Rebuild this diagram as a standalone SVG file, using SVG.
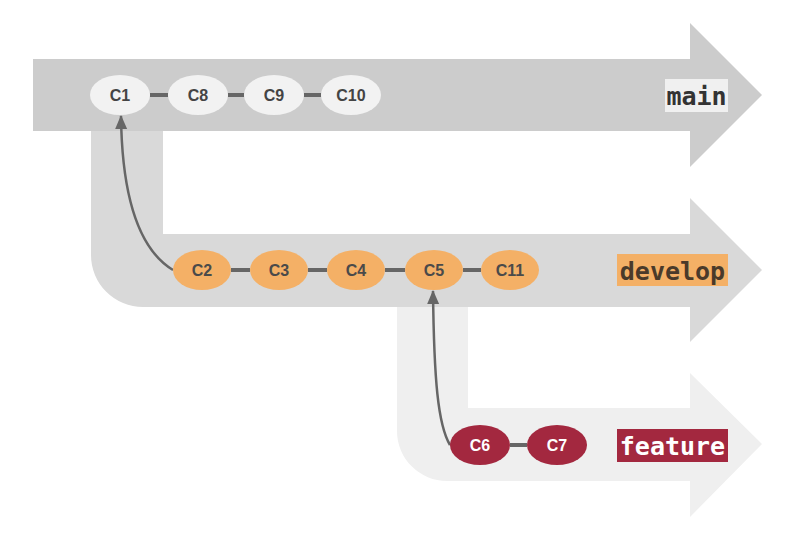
<svg xmlns="http://www.w3.org/2000/svg" width="785" height="533" viewBox="0 0 785 533">
<defs>
<style>
.nt{font-family:"Liberation Sans",Arial,sans-serif;font-weight:bold;font-size:16px;text-anchor:middle;dominant-baseline:central}
.lbl{font-family:"DejaVu Sans Mono","Liberation Mono",monospace;font-weight:bold;font-size:25px;text-anchor:middle;dominant-baseline:central}
.link{stroke:#666;stroke-width:4}
.arr{fill:none;stroke:#666;stroke-width:2.5}
</style>
<marker id="ah" markerUnits="userSpaceOnUse" markerWidth="14" markerHeight="14" viewBox="0 0 14 14" refX="13" refY="7" orient="auto">
<path d="M0,1 L14,7 L0,13 Z" fill="#666"/>
</marker>
</defs>
<rect width="785" height="533" fill="#fff"/>
<g id="bands">
<path d="M397,304 L468,304 L468,408 L690,408 L690,373 L762,444 L690,517 L690,481 L447,481 A50,50 0 0 1 397,431 Z" fill="#efefef"/>
<path d="M91,128 L163,128 L163,234 L690,234 L690,198 L762,270 L690,342 L690,307 L143,307 A52,52 0 0 1 91,255 Z" fill="#d9d9d9"/>
<path d="M33,59 L690,59 L690,23 L762,95 L690,167 L690,131 L33,131 Z" fill="#cccccc"/>
</g>
<g id="connectors">
<line class="link" x1="150" y1="95" x2="168" y2="95"/>
<line class="link" x1="228" y1="95" x2="244" y2="95"/>
<line class="link" x1="304" y1="95" x2="321" y2="95"/>
<line class="link" x1="231" y1="270" x2="250" y2="270"/>
<line class="link" x1="308" y1="270" x2="327" y2="270"/>
<line class="link" x1="385" y1="270" x2="405" y2="270"/>
<line class="link" x1="463" y1="270" x2="481" y2="270"/>
<line class="link" x1="510" y1="445" x2="527" y2="445"/>
<path class="arr" d="M173,270 C140,250 122,200 121,116" marker-end="url(#ah)"/>
<path class="arr" d="M450,445 C438,425 434,380 433,291" marker-end="url(#ah)"/>
</g>
<g id="C1"><ellipse cx="120" cy="95" rx="30" ry="20" fill="#f2f2f2"/><text class="nt" x="120" y="95" fill="#444">C1</text></g>
<g id="C8"><ellipse cx="198" cy="95" rx="30" ry="20" fill="#f2f2f2"/><text class="nt" x="198" y="95" fill="#444">C8</text></g>
<g id="C9"><ellipse cx="274" cy="95" rx="30" ry="20" fill="#f2f2f2"/><text class="nt" x="274" y="95" fill="#444">C9</text></g>
<g id="C10"><ellipse cx="351" cy="95" rx="30" ry="20" fill="#f2f2f2"/><text class="nt" x="351" y="95" fill="#444">C10</text></g>
<g id="C2"><ellipse cx="202" cy="270" rx="29" ry="20" fill="#f4b066"/><text class="nt" x="202" y="270" fill="#4a4a4a">C2</text></g>
<g id="C3"><ellipse cx="279" cy="270" rx="29" ry="20" fill="#f4b066"/><text class="nt" x="279" y="270" fill="#4a4a4a">C3</text></g>
<g id="C4"><ellipse cx="356" cy="270" rx="29" ry="20" fill="#f4b066"/><text class="nt" x="356" y="270" fill="#4a4a4a">C4</text></g>
<g id="C5"><ellipse cx="434" cy="270" rx="29" ry="20" fill="#f4b066"/><text class="nt" x="434" y="270" fill="#4a4a4a">C5</text></g>
<g id="C11"><ellipse cx="510" cy="270" rx="29" ry="20" fill="#f4b066"/><text class="nt" x="510" y="270" fill="#4a4a4a">C11</text></g>
<g id="C6"><ellipse cx="480" cy="445" rx="30" ry="20" fill="#a3283f"/><text class="nt" x="480" y="445" fill="#fff">C6</text></g>
<g id="C7"><ellipse cx="557" cy="445" rx="30" ry="20" fill="#a3283f"/><text class="nt" x="557" y="445" fill="#fff">C7</text></g>
<g id="label-main"><rect x="665" y="79" width="63" height="33" fill="#f0f0f0"/><text class="lbl" x="696.5" y="96" fill="#333">main</text></g>
<g id="label-develop"><rect x="617" y="254" width="111" height="32" fill="#f4b066"/><text class="lbl" x="672.5" y="271" fill="#4a3a2a">develop</text></g>
<g id="label-feature"><rect x="617" y="429" width="111" height="33" fill="#a3283f"/><text class="lbl" x="672.5" y="446" fill="#fff">feature</text></g>
</svg>
